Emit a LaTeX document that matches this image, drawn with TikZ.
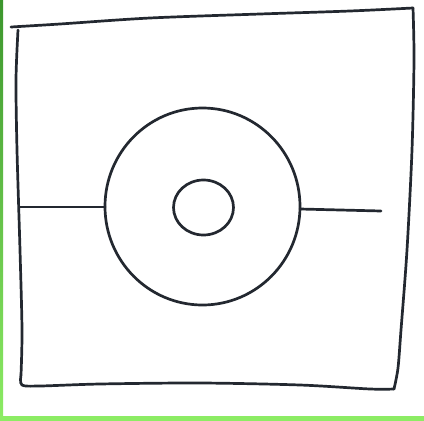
\documentclass[tikz,border=0pt]{standalone}
\definecolor{gdark}{RGB}{60,150,45}
\definecolor{glight}{RGB}{140,236,100}
\definecolor{inkc}{RGB}{35,40,48}
\begin{document}
\begin{tikzpicture}[x=1pt,y=-1pt,
  ink/.style={draw=inkc,line width=2.7pt,line cap=round,line join=round}]
\useasboundingbox (0,0) rectangle (424,421);
\fill[white] (0,0) rectangle (424,421);
% green edges
\shade[top color=gdark,bottom color=glight] (0,0) rectangle (3,421);
\fill[glight] (0,416) rectangle (424,421);
% outer frame
\draw[ink] plot[smooth,tension=0.5] coordinates {(11,27) (60,24) (150,18) (260,14) (350,11) (413,8)};
\draw[ink] plot[smooth,tension=0.5] coordinates {(413,8) (414,60) (412,150) (407,250) (401,330) (398,368) (394,389)};
\draw[ink] plot[smooth,tension=0.5] coordinates {(394,389) (370,389) (300,385) (200,383) (100,384) (40,386) (22,385) (21,375)};
\draw[ink] plot[smooth,tension=0.5] coordinates {(21,375) (22,330) (20,250) (17,150) (16,80) (18,30)};
% circles
\coordinate (c) at (202.5,206.5);
\draw[ink] (c) ellipse [x radius=97.5,y radius=98.5];
\coordinate (L) at (105,207);
\coordinate (R) at (300,209);
\coordinate (Le) at (20,207);
\coordinate (Re) at (381,211);
\draw[ink] (203.5,207.5) ellipse [x radius=30,y radius=27.5];
% lines
\draw[ink] (Le) -- (L);
\draw[ink] (R) -- (Re);
\end{tikzpicture}
\end{document}
